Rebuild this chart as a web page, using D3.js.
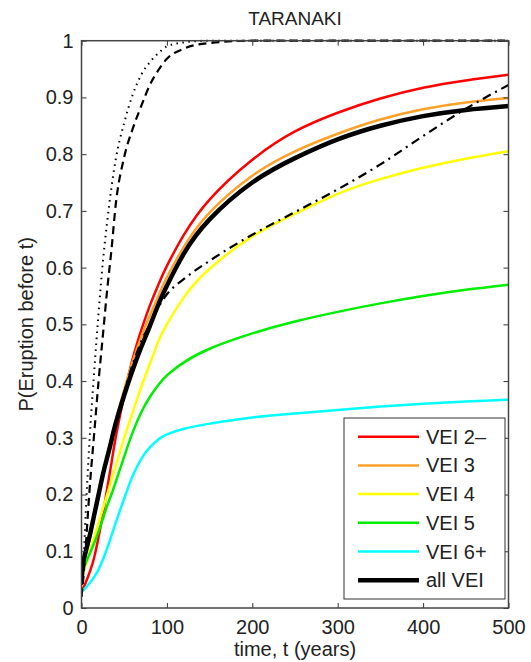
<!DOCTYPE html>
<html>
<head>
<meta charset="utf-8">
<script src="https://cdn.jsdelivr.net/npm/d3@7"></script>
<style>
  body { margin: 0; background: #fff; }
  text { font-family: "Liberation Sans", Arial, sans-serif; fill: #222; }
</style>
</head>
<body>
<svg width="531" height="662"></svg>
<script>
// time axis (years)
var years   = [0, 2, 5, 10, 15, 20, 25, 30, 35, 40, 50, 60, 70, 80, 90, 100, 120, 150, 200, 250, 300, 350, 400, 450, 500];

// P(eruption before t) per VEI class
var vei2    = [0.03, 0.035, 0.045, 0.065, 0.09, 0.125, 0.165, 0.21, 0.255, 0.30, 0.375, 0.44, 0.49, 0.533, 0.57, 0.603, 0.658, 0.72, 0.79, 0.84, 0.873, 0.898, 0.917, 0.93, 0.94];
var vei3    = [0.04, 0.06, 0.09, 0.125, 0.16, 0.197, 0.233, 0.267, 0.30, 0.33, 0.385, 0.435, 0.478, 0.515, 0.55, 0.583, 0.637, 0.697, 0.762, 0.805, 0.836, 0.861, 0.879, 0.891, 0.899];
var vei4    = [0.05, 0.06, 0.075, 0.10, 0.125, 0.15, 0.175, 0.20, 0.225, 0.25, 0.30, 0.345, 0.39, 0.43, 0.47, 0.50, 0.548, 0.598, 0.655, 0.695, 0.73, 0.756, 0.776, 0.792, 0.805];
var vei5    = [0.06, 0.07, 0.08, 0.097, 0.115, 0.135, 0.157, 0.18, 0.20, 0.222, 0.267, 0.31, 0.345, 0.372, 0.393, 0.41, 0.433, 0.457, 0.484, 0.505, 0.522, 0.537, 0.55, 0.561, 0.57];
var vei6    = [0.028, 0.031, 0.036, 0.045, 0.055, 0.068, 0.085, 0.105, 0.127, 0.15, 0.193, 0.233, 0.263, 0.283, 0.297, 0.306, 0.316, 0.325, 0.336, 0.343, 0.349, 0.355, 0.36, 0.364, 0.367];
var allVei  = [0.05, 0.08, 0.10, 0.13, 0.165, 0.20, 0.235, 0.265, 0.295, 0.325, 0.375, 0.42, 0.46, 0.497, 0.535, 0.568, 0.625, 0.685, 0.75, 0.793, 0.826, 0.85, 0.867, 0.878, 0.885];

// black reference curves
var dotted  = [0.02, 0.07, 0.17, 0.31, 0.42, 0.52, 0.61, 0.68, 0.74, 0.79, 0.855, 0.905, 0.94, 0.962, 0.978, 0.99, 0.997, 1, 1, 1, 1, 1, 1, 1, 1];
var dashed  = [0.02, 0.05, 0.11, 0.22, 0.31, 0.40, 0.48, 0.56, 0.63, 0.71, 0.795, 0.845, 0.885, 0.922, 0.948, 0.968, 0.986, 0.996, 1, 1, 1, 1, 1, 1, 1];
var dashDot = [0.05, 0.08, 0.10, 0.13, 0.165, 0.20, 0.235, 0.265, 0.295, 0.325, 0.38, 0.43, 0.47, 0.50, 0.53, 0.553, 0.58, 0.612, 0.658, 0.698, 0.738, 0.782, 0.832, 0.88, 0.922];

var xTicks = [0, 100, 200, 300, 400, 500];
var yTicks = [0, 0.1, 0.2, 0.3, 0.4, 0.5, 0.6, 0.7, 0.8, 0.9, 1];

var svg = d3.select("svg");

var x = d3.scaleLinear().domain([0, 500]).range([81.5, 508.5]),
    y = d3.scaleLinear().domain([0, 1]).range([608, 40.7]);

var series = [
  {name: "VEI 2\u2013", vals: vei2,   color: "#ff0000", w: 2.5},
  {name: "VEI 3",       vals: vei3,   color: "#ffa028", w: 2.5},
  {name: "VEI 4",       vals: vei4,   color: "#ffff00", w: 2.5},
  {name: "VEI 5",       vals: vei5,   color: "#00ee00", w: 2.5},
  {name: "VEI 6+",      vals: vei6,   color: "#00ffff", w: 2.5},
  {name: "all VEI",     vals: allVei, color: "#000000", w: 4.5}
];
var refs = [
  {vals: dotted,  dash: "1.5,4.5", w: 2},
  {vals: dashed,  dash: "8,5",     w: 2.2},
  {vals: dashDot, dash: "9,5,2,5", w: 2.2}
];

svg.append("clipPath").attr("id", "clip")
  .append("rect")
    .attr("x", x(0)).attr("y", y(1) - 2)
    .attr("width", x(500) - x(0)).attr("height", y(0) - y(1) + 2);

// smooth curves for the VEI classes, monotone for the ones that saturate at 1
var smooth = d3.line()
    .x(function(d) { return x(d[0]); })
    .y(function(d) { return y(d[1]); })
    .curve(d3.curveNatural);
var mono = d3.line()
    .x(function(d) { return x(d[0]); })
    .y(function(d) { return y(d[1]); })
    .curve(d3.curveMonotoneX);

function pts(vals) { return years.map(function(t, i) { return [t, vals[i]]; }); }

var plot = svg.append("g").attr("clip-path", "url(#clip)");

plot.selectAll("path.vei")
    .data(series)
    .enter().append("path")
    .attr("class", "vei")
    .attr("fill", "none")
    .attr("stroke", function(d) { return d.color; })
    .attr("stroke-width", function(d) { return d.w; })
    .attr("d", function(d) { return smooth(pts(d.vals)); });

plot.selectAll("path.ref")
    .data(refs)
    .enter().append("path")
    .attr("class", "ref")
    .attr("fill", "none")
    .attr("stroke", "#000")
    .attr("stroke-width", function(d) { return d.w; })
    .attr("stroke-dasharray", function(d) { return d.dash; })
    .attr("d", function(d) { return mono(pts(d.vals)); });

// axes, ticks pointing inward on all four sides
var fmt = d3.format("~g");
svg.append("g").attr("transform", "translate(0," + y(0) + ")")
    .call(d3.axisBottom(x).tickValues(xTicks).tickSize(-5).tickPadding(12).tickFormat(fmt));
svg.append("g").attr("transform", "translate(0," + y(1) + ")")
    .call(d3.axisTop(x).tickValues(xTicks).tickSize(-5).tickFormat(""));
svg.append("g").attr("transform", "translate(" + x(0) + ",0)")
    .call(d3.axisLeft(y).tickValues(yTicks).tickSize(-5).tickPadding(8).tickFormat(fmt));
svg.append("g").attr("transform", "translate(" + x(500) + ",0)")
    .call(d3.axisRight(y).tickValues(yTicks).tickSize(-5).tickFormat(""));

svg.selectAll(".domain").remove();
svg.selectAll(".tick line").attr("stroke", "#333").attr("stroke-width", 1);
svg.selectAll(".tick text").style("font-size", "20px").attr("fill", "#222")
   .style("font-family", "'Liberation Sans', Arial, sans-serif");

svg.append("rect")
    .attr("x", x(0)).attr("y", y(1))
    .attr("width", x(500) - x(0)).attr("height", y(0) - y(1))
    .attr("fill", "none").attr("stroke", "#444").attr("stroke-width", 1.5);

// labels
svg.append("text").attr("x", 295).attr("y", 25).attr("text-anchor", "middle")
    .style("font-size", "19px").text("TARANAKI");
svg.append("text").attr("x", 295).attr("y", 656).attr("text-anchor", "middle")
    .style("font-size", "20px").text("time, t (years)");
svg.append("text").attr("transform", "translate(33," + ((y(0) + y(1)) / 2) + ") rotate(-90)")
    .attr("text-anchor", "middle").style("font-size", "20px").text("P(Eruption before t)");

// legend
var lg = svg.append("g");
lg.append("rect").attr("x", 344).attr("y", 418).attr("width", 161).attr("height", 181)
    .attr("fill", "#fff").attr("stroke", "#333").attr("stroke-width", 1);
var row = lg.selectAll("g.row").data(series).enter().append("g")
    .attr("transform", function(d, i) { return "translate(0," + (436.7 + i * 28.7) + ")"; });
row.append("line").attr("x1", 358).attr("x2", 419)
    .attr("stroke", function(d) { return d.color; })
    .attr("stroke-width", function(d) { return d.w; });
row.append("text").attr("x", 426).attr("y", 7).style("font-size", "20px")
    .text(function(d) { return d.name; });
</script>
</body>
</html>
